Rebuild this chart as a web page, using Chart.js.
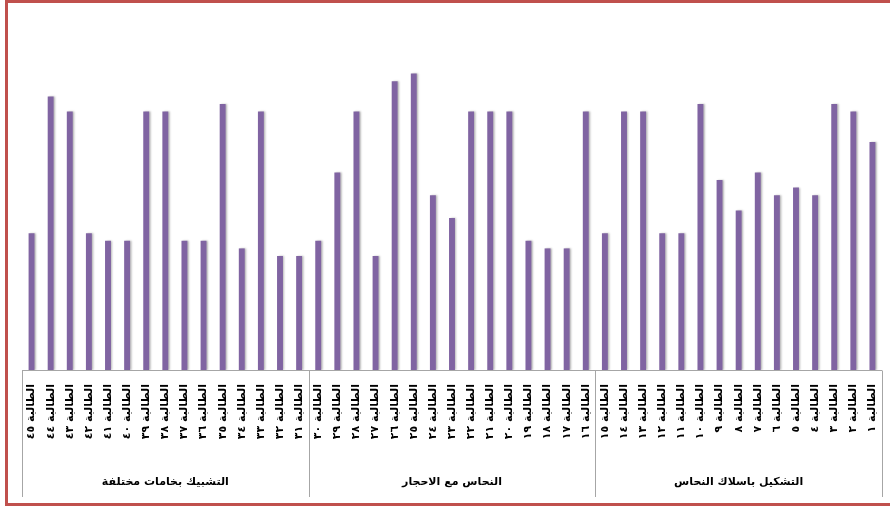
<!DOCTYPE html>
<html lang="ar">
<head>
<meta charset="utf-8">
<script src="https://cdn.jsdelivr.net/npm/chart.js@4/dist/chart.umd.min.js"></script>
<style>
    html, body { margin: 0; padding: 0; background: #ffffff; }
    #wrap { position: relative; width: 890px; height: 514px; overflow: hidden; }
    #chart { position: absolute; left: 0; top: 0; direction: rtl; }
    /* red outer frame of the original sheet chart */
    #frame {
        position: absolute; left: 5px; top: 0; width: 900px; height: 500px;
        border: 3px solid #c0504d; pointer-events: none;
    }
</style>
</head>
<body>
<div id="wrap">
    <canvas id="chart" width="890" height="514" dir="rtl"></canvas>
    <div id="frame"></div>
</div>
<script>
// Student labels, natural order (student 1 is drawn at the right end)
const studentLabels = [
    'الطالبة ١', 'الطالبة ٢', 'الطالبة ٣', 'الطالبة ٤', 'الطالبة ٥',
    'الطالبة ٦', 'الطالبة ٧', 'الطالبة ٨', 'الطالبة ٩', 'الطالبة ١٠',
    'الطالبة ١١', 'الطالبة ١٢', 'الطالبة ١٣', 'الطالبة ١٤', 'الطالبة ١٥',
    'الطالبة ١٦', 'الطالبة ١٧', 'الطالبة ١٨', 'الطالبة ١٩', 'الطالبة ٢٠',
    'الطالبة ٢١', 'الطالبة ٢٢', 'الطالبة ٢٣', 'الطالبة ٢٤', 'الطالبة ٢٥',
    'الطالبة ٢٦', 'الطالبة ٢٧', 'الطالبة ٢٨', 'الطالبة ٢٩', 'الطالبة ٣٠',
    'الطالبة ٣١', 'الطالبة ٣٢', 'الطالبة ٣٣', 'الطالبة ٣٤', 'الطالبة ٣٥',
    'الطالبة ٣٦', 'الطالبة ٣٧', 'الطالبة ٣٨', 'الطالبة ٣٩', 'الطالبة ٤٠',
    'الطالبة ٤١', 'الطالبة ٤٢', 'الطالبة ٤٣', 'الطالبة ٤٤', 'الطالبة ٤٥'
];

// Groups of 15 students each
const groupLabels = ['التشكيل باسلاك النحاس', 'النحاس مع الاحجار', 'التشبيك بخامات مختلفة'];

// Scores
const scoresWires = [30, 34, 35, 23, 24, 23, 26, 21, 25, 35, 18, 18, 34, 34, 18];      // 1-15
const scoresStones = [34, 16, 16, 17, 34, 34, 34, 20, 23, 39, 38, 15, 34, 26, 17];     // 16-30
const scoresMaterials = [15, 15, 34, 16, 35, 17, 17, 34, 34, 17, 17, 18, 34, 36, 18];  // 31-45

const groupSizes = [scoresWires.length, scoresStones.length, scoresMaterials.length];

const arabicFont = '"DejaVu Sans", sans-serif';

// Soft shadow behind the bars, like the Excel bar effect
const barShadow = {
    id: 'barShadow',
    beforeDatasetsDraw(chart) {
        const ctx = chart.ctx;
        ctx.save();
        ctx.shadowColor = 'rgba(0, 0, 0, 0.28)';
        ctx.shadowBlur = 2;
        ctx.shadowOffsetX = 1.5;
        ctx.shadowOffsetY = 0;
    },
    afterDatasetsDraw(chart) {
        chart.ctx.restore();
    }
};

// Box of the two-level category axis: top line plus group separators
const categoryBox = {
    id: 'categoryBox',
    afterDraw(chart) {
        const ctx = chart.ctx;
        const x = chart.scales.x;
        const x2 = chart.scales.x2;
        const top = Math.round(x.top) + 0.5;
        const bottom = x2.bottom;
        ctx.save();
        ctx.strokeStyle = '#a6a6a6';
        ctx.lineWidth = 1;
        ctx.beginPath();
        ctx.moveTo(chart.chartArea.left, top);
        ctx.lineTo(chart.chartArea.right, top);
        const edges = [chart.chartArea.left, chart.chartArea.right];
        let n = 0;
        for (let g = 0; g < groupSizes.length - 1; g++) {
            n += groupSizes[g];
            edges.push((x.getPixelForValue(n - 1) + x.getPixelForValue(n)) / 2);
        }
        edges.forEach(px => {
            const xp = Math.round(px) + 0.5;
            ctx.moveTo(xp, top);
            ctx.lineTo(xp, bottom);
        });
        ctx.stroke();
        ctx.restore();
    }
};

new Chart(document.getElementById('chart'), {
    type: 'bar',
    data: {
        labels: studentLabels,
        datasets: [{
            data: [...scoresWires, ...scoresStones, ...scoresMaterials],
            backgroundColor: '#8064a2',
            borderWidth: 0,
            categoryPercentage: 1,
            barPercentage: 0.31
        }]
    },
    options: {
        responsive: false,
        animation: false,
        devicePixelRatio: 1,
        layout: {
            padding: { left: 22, right: 8, top: 28, bottom: 17 }
        },
        plugins: {
            legend: { display: false },
            tooltip: { enabled: false }
        },
        scales: {
            y: {
                display: false,
                min: 0,
                max: 45
            },
            x: {
                reverse: true,
                weight: 0,
                grid: { display: false, drawTicks: false },
                border: { display: false },
                afterFit(scale) { scale.height = 80; },
                ticks: {
                    autoSkip: false,
                    minRotation: 90,
                    maxRotation: 90,
                    padding: 14,
                    color: '#000000',
                    font: { family: arabicFont, size: 11, weight: 'bold' }
                }
            },
            x2: {
                type: 'category',
                position: 'bottom',
                labels: groupLabels,
                reverse: true,
                offset: true,
                weight: 1,
                grid: { display: false, drawTicks: false },
                border: { display: false },
                afterFit(scale) { scale.height = 47; },
                ticks: {
                    padding: 26,
                    color: '#000000',
                    maxRotation: 0,
                    font: { family: arabicFont, size: 11, weight: 'bold' }
                }
            }
        }
    },
    plugins: [barShadow, categoryBox]
});
</script>
</body>
</html>
